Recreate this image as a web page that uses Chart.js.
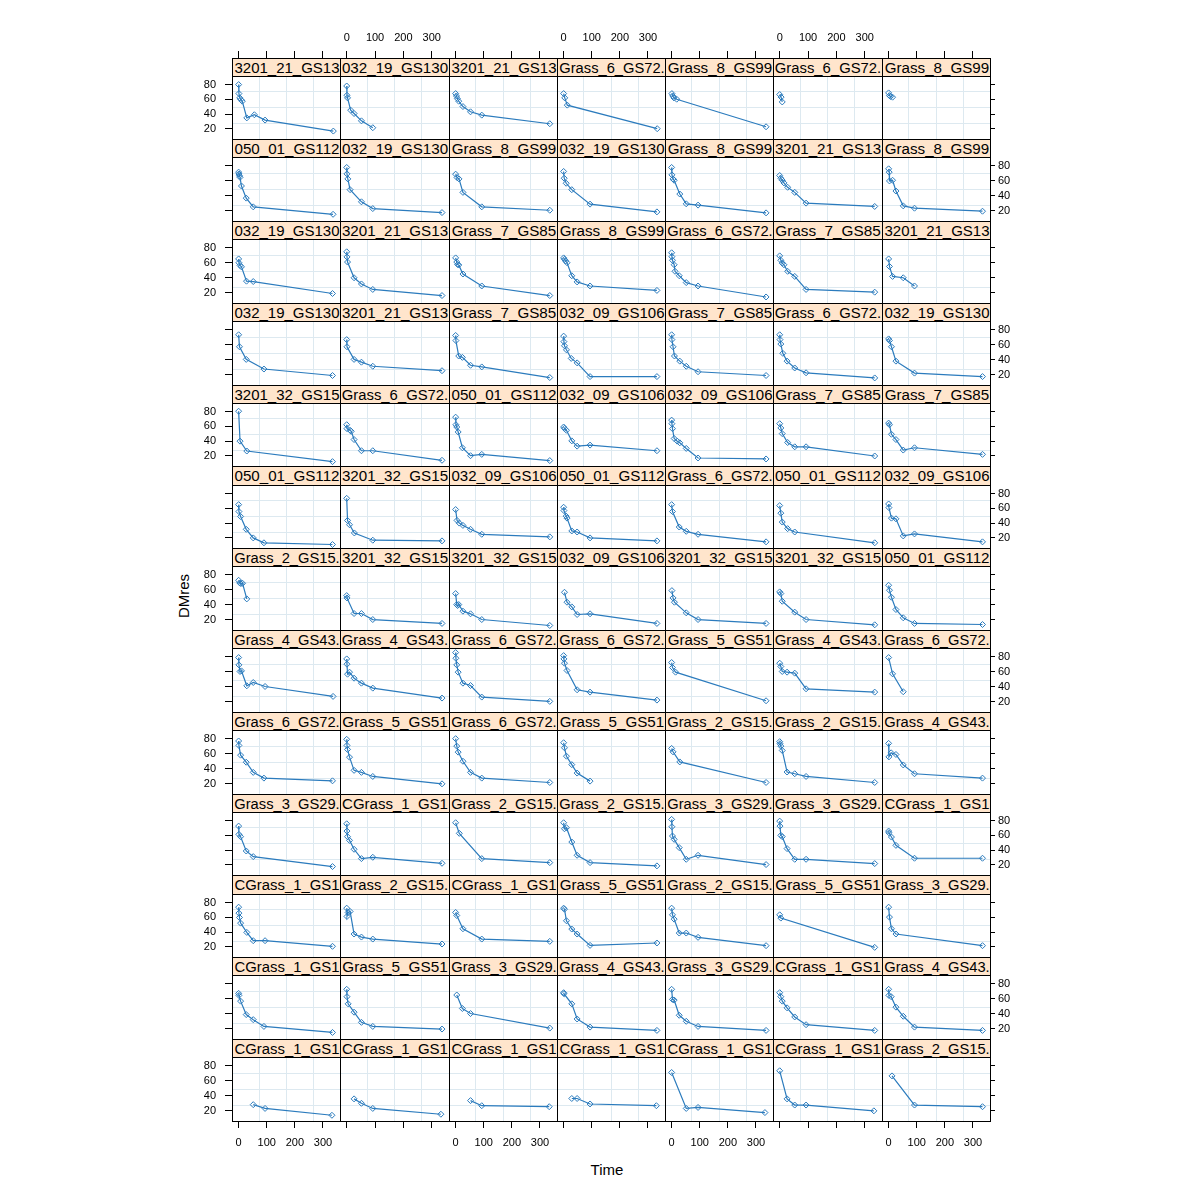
<!DOCTYPE html>
<html><head><meta charset="utf-8">
<script src="https://cdn.jsdelivr.net/npm/chart.js@4.4.0/dist/chart.umd.min.js"></script>
<style>
html,body{margin:0;padding:0;background:#fff}
body{width:1200px;height:1200px;position:relative;overflow:hidden;font-family:"Liberation Sans",Arial,sans-serif}
canvas{position:absolute}
.strip{position:absolute;background:#ffe5cc;overflow:hidden;box-sizing:border-box;border:1px solid #000;z-index:3}
.strip span{position:absolute;left:50%;top:1px;white-space:nowrap;font-size:14px;line-height:17px;color:#000;transform-origin:50% 50%}
.frame{position:absolute;box-sizing:border-box;border:1px solid #000;z-index:2;pointer-events:none}
.lab{position:absolute;font-size:15px;color:#000;white-space:nowrap}
</style></head><body>
<div class="lab" id="ylab" style="left:183px;top:596px;transform:translate(-50%,-50%) rotate(-90deg)">DMres</div>
<div class="lab" id="xlab" style="left:607px;top:1169px;transform:translate(-50%,-50%)">Time</div>
<script>
// ---- data (row by row, top row first, 7 panels per row) ----
const stripLabels = [
 "3201_21_GS13","032_19_GS130","3201_21_GS13","Grass_6_GS72.","Grass_8_GS99","Grass_6_GS72.","Grass_8_GS99",
 "050_01_GS112","032_19_GS130","Grass_8_GS99","032_19_GS130","Grass_8_GS99","3201_21_GS13","Grass_8_GS99",
 "032_19_GS130","3201_21_GS13","Grass_7_GS85","Grass_8_GS99","Grass_6_GS72.","Grass_7_GS85","3201_21_GS13",
 "032_19_GS130","3201_21_GS13","Grass_7_GS85","032_09_GS106","Grass_7_GS85","Grass_6_GS72.","032_19_GS130",
 "3201_32_GS15","Grass_6_GS72.","050_01_GS112","032_09_GS106","032_09_GS106","Grass_7_GS85","Grass_7_GS85",
 "050_01_GS112","3201_32_GS15","032_09_GS106","050_01_GS112","Grass_6_GS72.","050_01_GS112","032_09_GS106",
 "Grass_2_GS15.","3201_32_GS15","3201_32_GS15","032_09_GS106","3201_32_GS15","3201_32_GS15","050_01_GS112",
 "Grass_4_GS43.","Grass_4_GS43.","Grass_6_GS72.","Grass_6_GS72.","Grass_5_GS51","Grass_4_GS43.","Grass_6_GS72.",
 "Grass_6_GS72.","Grass_5_GS51","Grass_6_GS72.","Grass_5_GS51","Grass_2_GS15.","Grass_2_GS15.","Grass_4_GS43.",
 "Grass_3_GS29.","CGrass_1_GS1","Grass_2_GS15.","Grass_2_GS15.","Grass_3_GS29.","Grass_3_GS29.","CGrass_1_GS1",
 "CGrass_1_GS1","Grass_2_GS15.","CGrass_1_GS1","Grass_5_GS51","Grass_2_GS15.","Grass_5_GS51","Grass_3_GS29.",
 "CGrass_1_GS1","Grass_5_GS51","Grass_3_GS29.","Grass_4_GS43.","Grass_3_GS29.","CGrass_1_GS1","Grass_4_GS43.",
 "CGrass_1_GS1","CGrass_1_GS1","CGrass_1_GS1","CGrass_1_GS1","CGrass_1_GS1","CGrass_1_GS1","Grass_2_GS15."
];
const timeValues = [
 [0,1,4,8,13,29,56,94,337],[0,1,3,14,26,52,92],[0,3,6,11,26,53,93,335],[0,4,13,333],[1,4,8,18,336],[0,5,9],[0,3,7,14],
 [0,1,3,5,10,27,52,336],[0,1,4,12,52,92,336],[0,5,12,26,93,335],[0,2,9,29,94,332],[0,1,5,9,29,52,94,336],[0,4,9,15,28,53,93,335],[0,2,3,14,26,52,92,334],
 [0,1,5,10,28,52,334],[0,1,3,26,52,92,336],[0,4,7,11,26,93,335],[0,3,7,12,29,48,94,332],[0,1,3,9,12,27,52,94,336],[0,4,9,15,28,53,93,335],[0,3,14,52,92],
 [0,3,27,90,334],[0,1,26,52,92,336],[0,1,11,24,53,93,335],[0,1,3,10,27,48,94,332],[0,1,5,10,29,52,94,336],[0,1,4,11,26,53,93,335],[0,3,10,26,92,334],
 [0,5,29,334],[0,1,12,16,26,52,92,336],[0,1,4,9,24,53,93,335],[0,3,10,29,48,94,332],[0,1,3,9,20,29,52,94,336],[0,4,9,28,53,93,335],[0,3,10,26,52,92,334],
 [0,1,7,27,52,90,334],[0,3,10,27,92,336],[0,5,13,26,53,93,335],[0,1,9,12,29,48,94,332],[0,3,27,52,94,336],[0,4,9,28,53,335],[0,1,10,26,52,92,334],
 [0,4,8,14,29],[0,1,26,52,92,336],[0,4,7,11,26,53,93,335],[3,12,29,48,94,332],[1,5,10,52,94,336],[0,4,9,53,93,335],[0,3,10,26,52,92,334],
 [0,1,5,10,29,52,94,336],[0,1,3,10,26,52,92,336],[0,1,4,9,26,53,93,335],[0,1,3,12,48,94,332],[0,3,14,336],[0,4,9,26,53,93,335],[0,14,52],
 [0,1,7,27,52,90,334],[0,1,3,10,26,52,92,336],[0,4,9,26,53,93,335],[0,3,10,29,48,94],[0,5,29,336],[0,1,4,9,26,53,93,335],[0,1,9,26,52,92,334],
 [0,1,7,27,52,334],[0,1,3,10,26,52,92,336],[0,13,93,335],[0,3,10,29,48,94,332],[0,1,3,9,27,52,94,336],[0,1,4,9,26,53,93,335],[0,1,10,26,92,334],
 [0,1,3,7,29,52,94,334],[0,1,5,12,26,52,92,336],[0,4,26,93,335],[0,3,10,29,48,94,332],[0,3,9,27,52,94,336],[0,4,335],[0,3,10,26,334],
 [0,1,7,27,52,90,334],[0,1,5,26,52,92,336],[4,24,53,335],[0,1,29,48,94,332],[0,3,9,27,52,94,336],[0,4,9,26,53,93,335],[0,1,9,26,52,92,334],
 [52,94,332],[26,52,92,332],[53,93,333],[29,48,94,330],[0,52,94,332],[0,26,53,93,332],[12,92,334]
];
const dmresValues = [
 [79.9,67.8,62,59.7,57.5,35,39.2,32,17.2],[78,65.5,62,45.4,40.9,31,21.7],[67.8,64.5,61,57.5,50.3,43.2,38.7,27.1],[67.8,62,52.2,20.4],[67.8,64.7,62,60.2,23],[66.5,63,56.5],[68.7,65,63.8,62.9],
 [71.4,69,66.5,64.5,53,36.9,25.3,15.4],[77.6,69.1,62.4,48.1,32,23,17.7],[68.7,64.2,62.4,44.5,25.3,20.8],[72.3,63.3,56.6,48.1,28.9,18.6],[77.6,67.8,62.4,60.6,42.3,29.3,27.6,17.3],[66.9,63.3,60.6,57.1,51.3,44.5,30.2,25.8],[75.8,71.4,59.7,60.6,46.3,26.6,23.5,19.5],
 [65,60,56.4,54.5,35.5,35,19.1],[74.5,67.7,60.9,40,31.8,24.5,16.4],[66.4,60.9,57.7,57,45,29.1,16.4],[66.4,64.5,62.3,60,42.7,34.5,29.1,23.2],[73.2,68,63.2,57.3,48.6,42.7,33.6,29.1,14.5],[69.1,63.2,59.5,57.3,48.6,41.8,24.5,20.9],[65,55,41.8,40,29.1],
 [73.2,57.3,40.5,27.7,19.1],[66.8,57.3,40.5,36.8,31.4,25.5],[72.3,65.5,45,43.2,32.7,30.5,16.4],[71.4,64.1,58.6,53.2,41.8,35.9,17.7,17.7],[73.2,66.8,57.3,45,38.2,31.4,24.1,19.1],[73.2,66.8,60.9,48.6,38.2,29.1,22.7,15.9],[67.7,65.5,57.3,38.2,22.3,17.7],
 [80.4,40,26.7,12.4],[62.2,56.9,54.7,53.3,42.2,27.1,27.1,14.2],[72.4,62.2,59.1,52.4,31.1,20.4,22.2,13.8],[59.1,57.3,54.7,40.4,33.3,34.7,27.1],[68.4,63.6,56.9,43.6,40,37.8,30.2,17.3,16],[63.6,57.8,50.2,38.2,32.4,32.4,20],[64.4,62.2,49.3,42.2,28,31.1,22.2],
 [65,55.7,49,31.7,20.1,13.5,11.2],[73.5,43.7,37.9,26.8,17,16.1],[58.4,43.7,40.1,37,31.7,25,21.5],[61.5,57,49.5,46.8,29.5,28.1,20.1,16.1],[65,55.7,34.8,29,25,14.8],[63.7,53.5,41.5,32.6,28.1,13.5],[65.9,61,46.8,45.9,22.8,25.5,14.8],
 [72.5,69,68.1,68.5,47.8],[52.2,49.1,28.4,28.4,20.4,15.2],[54.9,40.3,39,40.3,31.5,28,20.4,12.5],[56.6,43.4,37.2,27.1,28,15.2],[58.8,49.1,43.4,29.3,20.4,15.2],[57.1,54.9,44.7,30.2,20.4,13.4],[65.9,59.3,50,33.7,22.7,15.2,13.8],
 [78.8,69.1,60.3,61.1,41.3,45.7,40.4,27.2],[77,70,56.7,59.4,51.4,44.8,38.2,25],[85.4,77.9,69.1,59.4,44.8,41.7,26.3,20.6],[81.4,77,71.3,61.6,36,32.9,22.3],[72.2,65.6,59.4,21.4],[71.3,66.9,60.3,59.4,58.1,37.3,32.9],[78.8,57.2,33.4],
 [76.9,71,58.1,48.7,35.2,27.6,24],[79.1,71,65.7,55.4,37.9,35.2,29.8,20],[80,70.1,62.1,50,35.2,27.6,21.8],[74.6,67.9,56.7,45.5,34.3,23.6],[67,62.5,49.1,21.8],[76,73.3,70.1,64.3,35.7,33.4,29.8,21.8],[73.7,55.8,61.2,59,45.1,33.4,27.6],
 [72.5,61.3,58.2,38.9,31.3,17.9],[75.6,65.8,58.2,53.2,41.2,28.6,30.4,22.3],[77,62.7,28.6,23.2],[77,68.9,70.3,51,33.1,23.2,18.8],[81.5,71.6,59.1,54.6,43.4,27.7,33.1,20.6],[79.2,72.5,60,58.2,42.1,27.7,27.7,21.9],[65.8,63.5,57.7,46.5,29.1,29.1],
 [73.7,65.7,59.8,52.2,39.7,28.5,28.5,20.9],[72.4,61.2,66.6,67.9,37.5,33.4,30.7,24],[66.6,62.5,44.6,30.7,27.6],[72.4,71,55.4,44.2,37.5,22.2,25.4],[72.4,63.4,57.6,38.8,38.8,33,21.8],[63.4,59,19.5],[73.7,60.3,44.6,37.5,21.8],
 [67.1,64.4,56.8,38.9,32.2,23.2,15.2],[72.5,62.7,53.2,42.1,28.6,23.2,19.7],[64.9,47,40.3,21],[68,66.7,53.2,33.1,22.3,17.9],[72.5,59.1,58.2,38,30,23.2,17.9],[68,62.7,56.8,47.9,35.8,25.5,17.9],[72.5,64.4,62.7,48.8,36.7,22.3,17.9],
 [28.2,23.2,14.1],[35.9,30,23.2,15.5],[33.6,26.8,25.5],[36.4,36.4,29.1,26.8],[70.9,23.2,24.5,17.7],[73.2,35.9,27.7,27.7,20],[66.4,27.7,25.5]
];
const xTicks = [0,100,200,300];
const yTicks = [20,40,60,80];
const xRange = [-23.6, 360.7];
const yRange = [6.5, 91.5];

// ---- layout ----
const NC=7, NR=13, X0=232, X1=990, Y0=57.5, Y1=1120.7, SH=18.2;
const PW=(X1-X0)/NC, RH=(Y1-Y0)/NR;
const LINE='#2b7bbd', GRID='#dde9f0';
const FONT={family:'"Liberation Sans", Arial, sans-serif', size:11};
const quarters=(a,b)=>[1,2,3].map(k=>a+k*(b-a)/4);
const xGrid=quarters(xRange[0],xRange[1]), yGrid=quarters(yRange[0],yRange[1]);

function setTicks(vals){return s=>{s.ticks=vals.map(v=>({value:v}));};}
function noPad(s){s.paddingTop=0;s.paddingBottom=0;s.paddingLeft=0;s.paddingRight=0;}
function fixH(h){return s=>{s.height=h;noPad(s);};}
function fixW(w){return s=>{s.width=w;noPad(s);};}

for(let i=0;i<NR*NC;i++){
  const r=Math.floor(i/NC), c=i%NC;
  const L=Math.round(X0+c*PW), R=Math.round(X0+(c+1)*PW);
  const ST=Math.round(Y0+r*RH), T=Math.round(Y0+r*RH+SH), B=Math.round(Y0+(r+1)*RH);
  const isTop=r===0, isBot=r===NR-1, isLeft=c===0, isRight=c===NC-1;
  const AX=42;
  const mt=isTop?AX+(T-ST):0, mb=isBot?AX:0, ml=isLeft?AX:0, mr=isRight?AX:0;
  const cv=document.createElement('canvas');
  const w=(R-L)+ml+mr, h=(B-T)+mt+mb;
  cv.width=w; cv.height=h;
  cv.style.left=(L-ml)+'px'; cv.style.top=(T-mt)+'px';
  cv.style.width=w+'px'; cv.style.height=h+'px';
  document.body.appendChild(cv);

  const strip=document.createElement('div');
  strip.className='strip';
  strip.style.left=L+'px'; strip.style.top=ST+'px';
  strip.style.width=(R-L+1)+'px'; strip.style.height=(T-ST+1)+'px';
  const sp=document.createElement('span'); sp.textContent=stripLabels[i];
  strip.appendChild(sp); document.body.appendChild(strip);
  const natural=sp.offsetWidth;
  const k=Math.min(1.1,(R-L-3)/natural);
  sp.style.transform='translateX(-50%) scaleX('+k.toFixed(3)+')';

  const fr=document.createElement('div');
  fr.className='frame';
  fr.style.left=L+'px'; fr.style.top=T+'px';
  fr.style.width=(R-L+1)+'px'; fr.style.height=(B-T+1)+'px';
  document.body.appendChild(fr);

  const scales={
    x:{type:'linear',position:'bottom',min:xRange[0],max:xRange[1],weight:0,
       afterBuildTicks:setTicks(xGrid),ticks:{display:false},
       grid:{color:GRID,drawTicks:false,lineWidth:1},border:{display:false},afterFit:fixH(0)},
    y:{type:'linear',position:'left',min:yRange[0],max:yRange[1],weight:0,
       afterBuildTicks:setTicks(yGrid),ticks:{display:false},
       grid:{color:GRID,drawTicks:false,lineWidth:1},border:{display:false},afterFit:fixW(0)}
  };
  const tickGrid=(len)=>({drawOnChartArea:false,drawTicks:true,tickLength:len,color:'#000',lineWidth:1});
  if(isTop){
    scales.spacer={type:'linear',position:'top',min:xRange[0],max:xRange[1],weight:1,
      ticks:{display:false},grid:{display:false},border:{display:false},afterFit:fixH(T-ST)};
    scales.xt={type:'linear',position:'top',min:xRange[0],max:xRange[1],weight:2,
      afterBuildTicks:setTicks(xTicks),
      ticks:{display:c%2===1,font:FONT,color:'#000',padding:6,maxRotation:0,autoSkip:false},
      grid:tickGrid(7),border:{display:false},afterFit:fixH(AX)};
  }
  if(isBot){
    scales.xb={type:'linear',position:'bottom',min:xRange[0],max:xRange[1],weight:2,
      afterBuildTicks:setTicks(xTicks),
      ticks:{display:c%2===0,font:FONT,color:'#000',padding:8,maxRotation:0,autoSkip:false},
      grid:tickGrid(7),border:{display:false},afterFit:fixH(AX)};
  }
  if(isLeft){
    scales.yl={type:'linear',position:'left',min:yRange[0],max:yRange[1],weight:2,
      afterBuildTicks:setTicks(yTicks),
      ticks:{display:r%2===0,font:FONT,color:'#000',padding:9,autoSkip:false},
      grid:tickGrid(7),border:{display:false},afterFit:fixW(AX)};
  }
  if(isRight){
    scales.yr={type:'linear',position:'right',min:yRange[0],max:yRange[1],weight:2,
      afterBuildTicks:setTicks(yTicks),
      ticks:{display:r%2===1,font:FONT,color:'#000',padding:3,autoSkip:false},
      grid:tickGrid(5),border:{display:false},afterFit:fixW(AX)};
  }

  new Chart(cv,{
    type:'line',
    data:{datasets:[{
      data:timeValues[i].map((t,j)=>({x:t,y:dmresValues[i][j]})),
      borderColor:LINE,borderWidth:1.2,tension:0,
      pointStyle:'rectRot',pointRadius:3,pointHoverRadius:3,pointBorderWidth:1,
      pointBorderColor:LINE,pointBackgroundColor:'rgba(0,0,0,0)',
      xAxisID:'x',yAxisID:'y'
    }]},
    options:{
      responsive:false,animation:false,devicePixelRatio:1,events:[],
      layout:{padding:0,autoPadding:false},
      plugins:{legend:{display:false},tooltip:{enabled:false},title:{display:false}},
      scales
    }
  });
}
</script>
</body></html>
